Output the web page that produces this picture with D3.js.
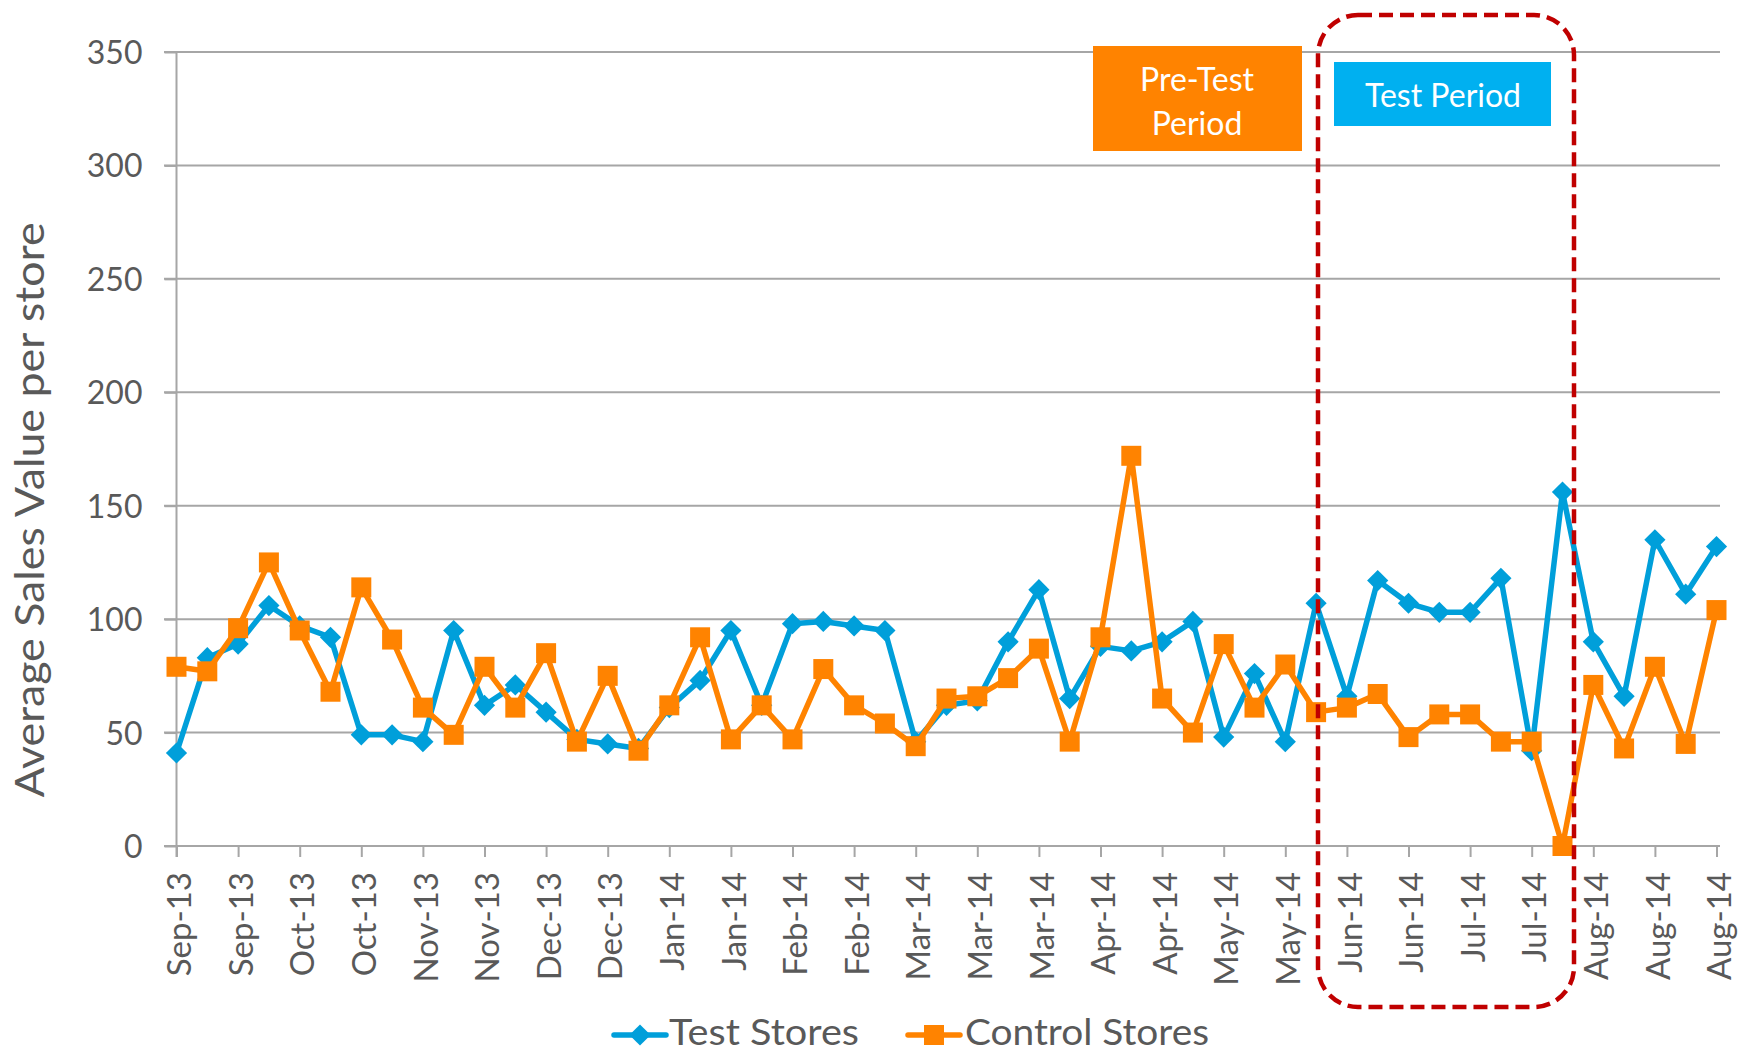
<!DOCTYPE html>
<html>
<head>
	<meta http-equiv="Content-Type" content="text/html;charset=UTF-8">
	<title>Test vs Control Stores</title>
	<style>
		body { margin: 0; background: #fff; }
		svg { display: block; }
		.axis text { font-family: Lato, "Open Sans", sans-serif; fill: #595959; }
		.axis path, .axis line { stroke: #a6a6a6; stroke-width: 2; }
	</style>
</head>
<body>

	<div class="chart"></div>

	<script src="https://cdnjs.cloudflare.com/ajax/libs/d3/7.8.5/d3.min.js"></script>
	<script>

		/* x labels, one every second week */
		var tickLabels = ["Sep-13", "Sep-13", "Oct-13", "Oct-13", "Nov-13", "Nov-13", "Dec-13",
						  "Dec-13", "Jan-14", "Jan-14", "Feb-14", "Feb-14", "Mar-14", "Mar-14",
						  "Mar-14", "Apr-14", "Apr-14", "May-14", "May-14", "Jun-14", "Jun-14",
						  "Jul-14", "Jul-14", "Aug-14", "Aug-14", "Aug-14"];

		var yTicks = [0, 50, 100, 150, 200, 250, 300, 350];

		/* weekly average sales value per store */
		var testStores = [41, 83, 89, 106, 97, 92, 49, 49, 46, 95,
						  62, 71, 59, 47, 45, 43, 61, 73, 95, 62,
						  98, 99, 97, 95, 46, 62, 64, 90, 113, 65,
						  88, 86, 90, 99, 48, 76, 46, 107, 66, 117,
						  107, 103, 103, 118, 42, 156, 90, 66, 135, 111,
						  132];

		var controlStores = [79, 77, 96, 125, 95, 68, 114, 91, 61, 49,
							 79, 61, 85, 46, 75, 42, 62, 92, 47, 62,
							 47, 78, 62, 54, 44, 65, 66, 74, 87, 46,
							 92, 172, 65, 50, 89, 61, 80, 59, 61, 67,
							 48, 58, 58, 46, 46, 0, 71, 43, 79, 45,
							 104];

		var seriesNames = ["Test Stores", "Control Stores"];
		var seriesColors = ["#009fda", "#ff8300"];

		var w = 1740;
		var h = 1054;
		var fontFam = "Lato, 'Open Sans', sans-serif";

		var SVG = d3.select("div.chart").append("svg")
					.attr("width", w)
					.attr("height", h);

		/* Scales */
		var xSCALE = d3.scaleLinear()
						.domain([0, testStores.length - 1])
						.range([176.5, 1716.5]);

		var ySCALE = d3.scaleLinear()
						.domain([0, 350])
						.range([846, 52]);

		/* gridlines */
		SVG.append("g")
			.selectAll("line")
			.data(yTicks)
			.enter()
			.append("line")
			.attr("x1", 164)
			.attr("x2", 1720)
			.attr("y1", function(d){ return ySCALE(d); })
			.attr("y2", function(d){ return ySCALE(d); })
			.attr("stroke", "#a6a6a6")
			.attr("stroke-width", 2);

		/* Axis Y */
		var yAxis = d3.axisLeft(ySCALE)
					  .tickValues(yTicks)
					  .tickSize(12)
					  .tickPadding(22);

		SVG.append("g")
			.attr("class", "axis")
			.attr("transform", "translate(" + xSCALE(0) + ",0)")
			.call(yAxis)
			.call(function(g){ g.select(".domain").remove(); })
			.selectAll("text")
			.attr("font-size", "32px")
			.attr("dy", "0.36em");

		SVG.append("line")
			.attr("x1", xSCALE(0)).attr("x2", xSCALE(0))
			.attr("y1", ySCALE(350)).attr("y2", ySCALE(0) + 11)
			.attr("stroke", "#a6a6a6")
			.attr("stroke-width", 2);

		/* Axis X */
		var xAxis = d3.axisBottom(xSCALE)
					  .tickValues(d3.range(0, testStores.length, 2))
					  .tickFormat(function(d){ return tickLabels[d / 2]; })
					  .tickSize(11)
					  .tickSizeOuter(0);

		SVG.append("g")
			.attr("class", "axis")
			.attr("transform", "translate(0," + ySCALE(0) + ")")
			.call(xAxis)
			.call(function(g){ g.select(".domain").remove(); })
			.selectAll("text")
			.attr("font-size", "33px")
			.attr("text-anchor", "end")
			.attr("x", 0)
			.attr("y", 0)
			.attr("dy", "0.43em")
			.attr("transform", "translate(0,26) rotate(-90)");

		/* Y title */
		SVG.append("text")
			.attr("transform", "translate(44,510) rotate(-90)")
			.attr("text-anchor", "middle")
			.attr("font-family", fontFam)
			.attr("font-size", "41px")
			.attr("fill", "#595959")
			.attr("textLength", 575)
			.attr("lengthAdjust", "spacingAndGlyphs")
			.text("Average Sales Value per store");

		/* Lines + markers */
		var line = d3.line()
					 .x(function(d, i){ return xSCALE(i); })
					 .y(function(d){ return ySCALE(d); });

		var diamond = d3.symbol().type(d3.symbolSquare).size(225);
		var square = d3.symbol().type(d3.symbolSquare).size(400);

		[testStores, controlStores].forEach(function(vals, k){
			SVG.append("path")
				.datum(vals)
				.attr("d", line)
				.attr("fill", "none")
				.attr("stroke", seriesColors[k])
				.attr("stroke-width", 5.5)
				.attr("stroke-linejoin", "round");

			SVG.append("g")
				.selectAll("path")
				.data(vals)
				.enter()
				.append("path")
				.attr("d", k == 0 ? diamond : square)
				.attr("transform", function(d, i){
					return "translate(" + xSCALE(i) + "," + ySCALE(d) + ")" + (k == 0 ? " rotate(45)" : "");
				})
				.attr("fill", seriesColors[k]);
		});

		/* Pre-Test box */
		SVG.append("rect")
			.attr("x", 1093).attr("y", 46)
			.attr("width", 209).attr("height", 105)
			.attr("fill", "#ff8300");

		SVG.append("text")
			.attr("x", 1197).attr("y", 91)
			.attr("text-anchor", "middle")
			.attr("font-family", fontFam)
			.attr("font-size", "32px")
			.attr("fill", "#fff")
			.text("Pre-Test");

		SVG.append("text")
			.attr("x", 1197).attr("y", 135)
			.attr("text-anchor", "middle")
			.attr("font-family", fontFam)
			.attr("font-size", "32px")
			.attr("fill", "#fff")
			.text("Period");

		/* Test period box */
		SVG.append("rect")
			.attr("x", 1334).attr("y", 62)
			.attr("width", 217).attr("height", 64)
			.attr("fill", "#00b0f0");

		SVG.append("text")
			.attr("x", 1443).attr("y", 107)
			.attr("text-anchor", "middle")
			.attr("font-family", fontFam)
			.attr("font-size", "32px")
			.attr("fill", "#fff")
			.text("Test Period");

		/* dashed frame round the test period */
		SVG.append("rect")
			.attr("x", 1318).attr("y", 15)
			.attr("width", 256).attr("height", 992)
			.attr("rx", 40).attr("ry", 40)
			.attr("fill", "none")
			.attr("stroke", "#c00000")
			.attr("stroke-width", 4.5)
			.attr("stroke-dasharray", "14,7");

		/* Legend */
		var legendX = [614, 908];
		seriesNames.forEach(function(name, k){
			var lg = SVG.append("g")
						.attr("transform", "translate(" + legendX[k] + ",1035)");
			lg.append("line")
				.attr("x1", 0).attr("x2", 52)
				.attr("stroke", seriesColors[k])
				.attr("stroke-width", 5.5)
				.attr("stroke-linecap", "round");
			lg.append("path")
				.attr("d", k == 0 ? diamond : square)
				.attr("transform", "translate(26,0)" + (k == 0 ? " rotate(45)" : ""))
				.attr("fill", seriesColors[k]);
			lg.append("text")
				.attr("x", k == 0 ? 55 : 57)
				.attr("y", 10)
				.attr("font-family", fontFam)
				.attr("font-size", "37px")
				.attr("fill", "#595959")
				.attr("textLength", k == 0 ? 190 : 244)
				.attr("lengthAdjust", "spacingAndGlyphs")
				.text(name);
		});

	</script>

</body>
</html>
